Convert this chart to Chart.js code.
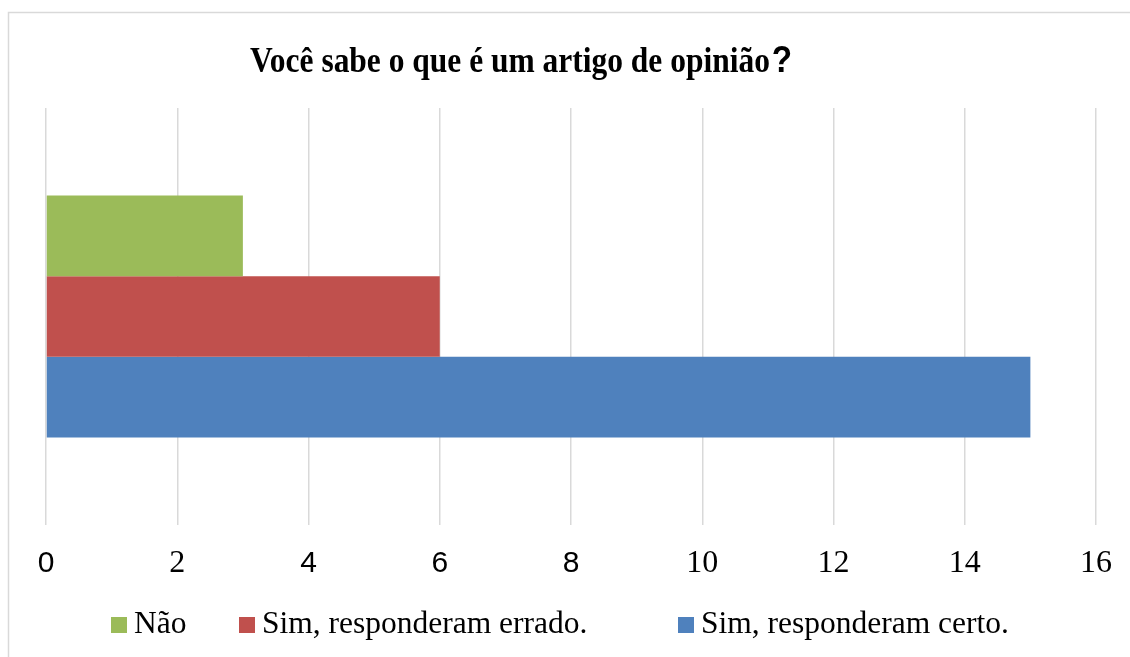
<!DOCTYPE html>
<html>
<head>
<meta charset="utf-8">
<script src="https://cdn.jsdelivr.net/npm/chart.js"></script>
<style>
  body { margin: 0; background: #fff; }
</style>
</head>
<body>
<canvas id="chart" width="1130" height="657"></canvas>
<script>
const titleText = 'Você sabe o que é um artigo de opinião';
const categories = [''];
const seriesLabels = ['Não', 'Sim, responderam errado.', 'Sim, responderam certo.'];
const seriesValues = [[3], [6], [15]];
const seriesColors = ['#9BBB59', '#C0504D', '#4F81BD'];
const tickMin = 0, tickMax = 16, tickStep = 2;

// the original mixes fonts on the axis: these ticks came out in a sans face
const sansTicks = [0, 4, 6, 8];
// legend is laid out like the Excel one (uneven gaps), so draw it by hand
const legendX = [111, 239, 678];

const chartBorder = {
  id: 'chartBorder',
  beforeDraw(chart) {
    const ctx = chart.ctx;
    ctx.save();
    ctx.strokeStyle = '#d9d9d9';
    ctx.lineWidth = 1.5;
    ctx.strokeRect(8.5, 12.5, 1200, 700);
    ctx.restore();
  }
};

const mixedTitle = {
  id: 'mixedTitle',
  afterDraw(chart) {
    const ctx = chart.ctx;
    ctx.save();
    ctx.fillStyle = '#000';
    ctx.textBaseline = 'alphabetic';
    const f1 = 'bold 35px "Liberation Serif"';
    const f2 = 'bold 37px "Liberation Sans"';
    ctx.font = f1;
    const w1 = ctx.measureText(titleText).width;
    ctx.font = f2;
    const w2 = ctx.measureText('?').width;
    // squeeze it to the width of the original
    const sx = 542 / (w1 + w2 + 2);
    ctx.translate(250, 72);
    ctx.scale(sx, 1);
    ctx.font = f1;
    ctx.fillText(titleText, 0, 0);
    ctx.font = f2;
    ctx.fillText('?', w1 + 2, 0);
    ctx.restore();
  }
};

const handLegend = {
  id: 'handLegend',
  afterDraw(chart) {
    const ctx = chart.ctx;
    ctx.save();
    ctx.font = '31.5px "Liberation Serif"';
    ctx.textBaseline = 'alphabetic';
    chart.data.datasets.forEach((ds, i) => {
      const x = legendX[i];
      ctx.fillStyle = ds.backgroundColor;
      ctx.fillRect(x, 617, 16, 16);
      ctx.fillStyle = '#000';
      ctx.fillText(ds.label, x + 23, 633);
    });
    ctx.restore();
  }
};

new Chart(document.getElementById('chart'), {
  type: 'bar',
  data: {
    labels: categories,
    datasets: seriesLabels.map((label, i) => ({
      label: label,
      data: seriesValues[i],
      backgroundColor: seriesColors[i],
      borderWidth: 0,
      categoryPercentage: 0.58,
      barPercentage: 1
    }))
  },
  options: {
    indexAxis: 'y',
    responsive: false,
    animation: false,
    layout: { autoPadding: false, padding: { left: 46, right: 34, top: 108, bottom: 55 } },
    scales: {
      x: {
        min: tickMin,
        max: tickMax,
        ticks: {
          stepSize: tickStep,
          color: '#000',
          padding: 18,
          font: (c) => sansTicks.includes(c.tick && c.tick.value)
            ? { family: 'Liberation Sans', size: 30, lineHeight: '41px' }
            : { family: 'Liberation Serif', size: 32, lineHeight: '41px' }
        },
        grid: { color: '#d9d9d9', lineWidth: 1.5, drawTicks: false },
        border: { display: false }
      },
      y: { display: false }
    },
    plugins: {
      title: { display: false },
      tooltip: { enabled: false },
      legend: { display: false }
    }
  },
  plugins: [chartBorder, mixedTitle, handLegend]
});
</script>
</body>
</html>
